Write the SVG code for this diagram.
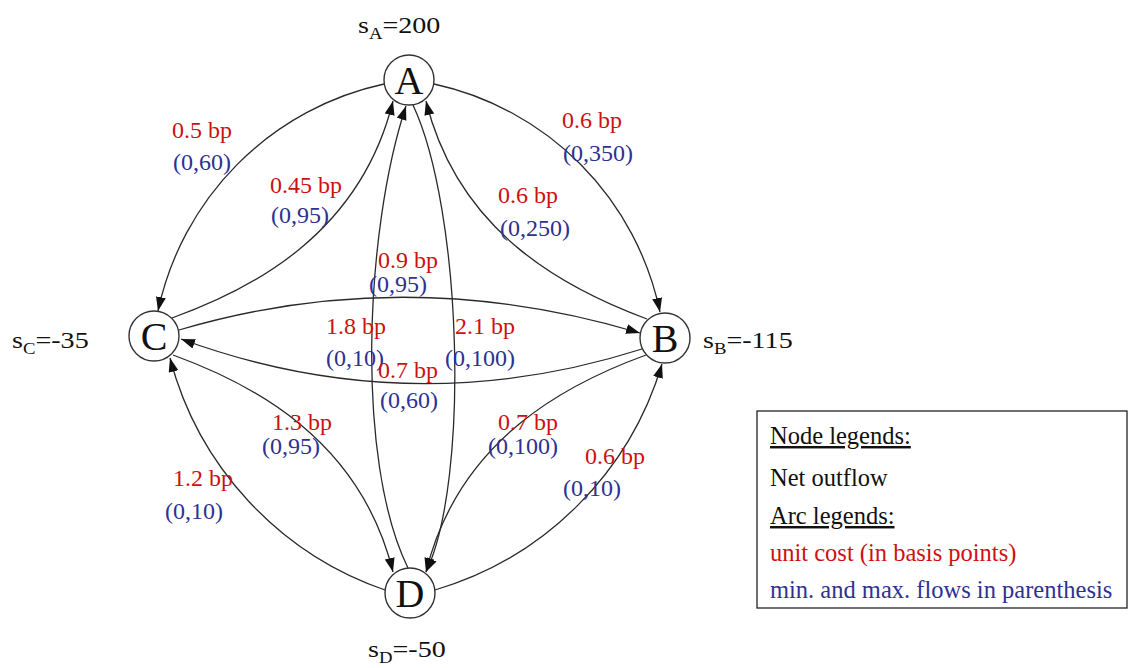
<svg xmlns="http://www.w3.org/2000/svg" width="1131" height="668" viewBox="0 0 1131 668">
<style>
  .edge { fill: none; stroke: #2a2a2a; stroke-width: 1.3; marker-end: url(#arrow); }
  .node circle { fill: #ffffff; stroke: #333333; stroke-width: 1.4; }
  .node text { font-family: "Liberation Serif", "Times New Roman", serif; font-size: 40px; fill: #111111; text-anchor: middle; }
  .sup { font-family: "Liberation Serif", "Times New Roman", serif; font-size: 24px; fill: #111111; }
  .cost { font-family: "Liberation Serif", "Times New Roman", serif; font-size: 24px; fill: #cc1111; }
  .flow { font-family: "Liberation Serif", "Times New Roman", serif; font-size: 24px; fill: #2e3192; }
  .leg { font-family: "Liberation Serif", "Times New Roman", serif; font-size: 24.5px; fill: #111111; }
</style>
<defs>
  <marker id="arrow" markerUnits="userSpaceOnUse" markerWidth="15" markerHeight="11" refX="14" refY="5" orient="auto">
    <path d="M0,0 L14,5 L0,10 z" fill="#111111"/>
  </marker>
</defs>
<rect width="1131" height="668" fill="#ffffff"/>

<g id="connectors">
  <path class="edge" d="M384,84 A295,295 0 0 0 158,311"/>
  <path class="edge" d="M434,84 A295,295 0 0 1 660,312"/>
  <path class="edge" d="M385,590 A335,335 0 0 1 170,358"/>
  <path class="edge" d="M435,590 A335,335 0 0 0 662,364"/>
  <path class="edge" d="M172,318 C250,290 360,235 393,101"/>
  <path class="edge" d="M647,319 C569,290 459,235 426,101"/>
  <path class="edge" d="M173,355 C250,383 360,438 393,572"/>
  <path class="edge" d="M646,355 C569,383 459,438 426,572"/>
  <path class="edge" d="M408,568 C355,460 365,230 406,106"/>
  <path class="edge" d="M413,105 C462,210 470,480 426,572"/>
  <path class="edge" d="M179,330 Q406,263 640,333"/>
  <path class="edge" d="M642,349 Q410,423 181,339"/>
</g>

<g id="edge-labels">
  <text class="cost" x="172" y="138">0.5 bp</text>
  <text class="flow" x="173" y="170">(0,60)</text>
  <text class="cost" x="270" y="193">0.45 bp</text>
  <text class="flow" x="271" y="223">(0,95)</text>
  <text class="cost" x="562" y="128">0.6 bp</text>
  <text class="flow" x="563" y="161">(0,350)</text>
  <text class="cost" x="498" y="203">0.6 bp</text>
  <text class="flow" x="500" y="236">(0,250)</text>
  <text class="cost" x="378" y="268">0.9 bp</text>
  <text class="flow" x="369" y="292">(0,95)</text>
  <text class="cost" x="326" y="334">1.8 bp</text>
  <text class="flow" x="326" y="366">(0,10)</text>
  <text class="cost" x="455" y="334">2.1 bp</text>
  <text class="flow" x="445" y="366">(0,100)</text>
  <text class="cost" x="378" y="378">0.7 bp</text>
  <text class="flow" x="380" y="408">(0,60)</text>
  <text class="cost" x="272" y="430">1.3 bp</text>
  <text class="flow" x="262" y="454">(0,95)</text>
  <text class="cost" x="173" y="486">1.2 bp</text>
  <text class="flow" x="165" y="519">(0,10)</text>
  <text class="cost" x="498" y="430">0.7 bp</text>
  <text class="flow" x="488" y="454">(0,100)</text>
  <text class="cost" x="585" y="464">0.6 bp</text>
  <text class="flow" x="563" y="496">(0,10)</text>
</g>

<g id="node-A" class="node">
  <circle cx="409" cy="80" r="25"/>
  <text x="409" y="94">A</text>
</g>
<g id="node-B" class="node">
  <circle cx="665" cy="338" r="25"/>
  <text x="665" y="352">B</text>
</g>
<g id="node-C" class="node">
  <circle cx="154" cy="336" r="25"/>
  <text x="154" y="350">C</text>
</g>
<g id="node-D" class="node">
  <circle cx="410" cy="593" r="25"/>
  <text x="410" y="607">D</text>
</g>

<g id="supplies">
  <text class="sup" transform="translate(358,33) scale(1.17,1)">s<tspan font-size="16" dy="6">A</tspan><tspan dy="-6">=200</tspan></text>
  <text class="sup" transform="translate(703,348) scale(1.17,1)">s<tspan font-size="16" dy="6">B</tspan><tspan dy="-6">=-115</tspan></text>
  <text class="sup" transform="translate(12,348) scale(1.17,1)">s<tspan font-size="16" dy="6">C</tspan><tspan dy="-6">=-35</tspan></text>
  <text class="sup" transform="translate(368,657) scale(1.17,1)">s<tspan font-size="16" dy="6">D</tspan><tspan dy="-6">=-50</tspan></text>
</g>

<g id="legend">
  <rect x="757" y="411" width="370" height="197" fill="#ffffff" stroke="#222222" stroke-width="1.3"/>
  <text class="leg" x="770" y="444" text-decoration="underline">Node legends:</text>
  <text class="leg" x="770" y="486">Net outflow</text>
  <text class="leg" x="770" y="524" text-decoration="underline">Arc legends:</text>
  <text class="leg" x="770" y="561" style="fill:#cc1111">unit cost (in basis points)</text>
  <text class="leg" x="770" y="598" style="fill:#2e3192">min. and max. flows in parenthesis</text>
</g>
</svg>
